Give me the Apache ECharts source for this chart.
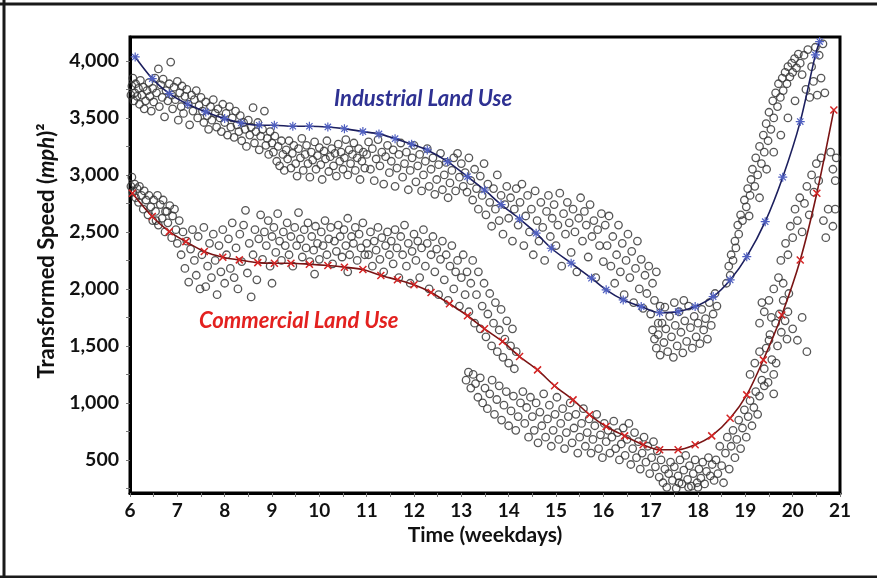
<!DOCTYPE html>
<html><head><meta charset="utf-8">
<script src="https://cdn.jsdelivr.net/npm/echarts@6/dist/echarts.min.js"></script>
<style>html,body{margin:0;padding:0;background:#fff}#c{width:877px;height:578px}</style>
</head><body><div id="c"></div>
<script>
// ---- data ----
const yLabelValues = [500,1000,1500,2000,2500,3000,3500,4000];
const yTickValues = [250,500,750,1000,1250,1500,1750,2000,2250,2500,2750,3000,3250,3500,3750,4000];

const industrialFit = [[6.11,4035],[6.47,3845],[6.83,3713],[7.22,3620],[7.6,3553],[8.0,3494],[8.35,3456],[8.73,3436],[9.05,3436],[9.44,3427],[9.79,3427],[10.18,3421],[10.53,3406],[10.92,3380],[11.26,3360],[11.6,3318],[11.95,3270],[12.28,3219],[12.71,3117],[13.13,2985],[13.49,2868],[13.84,2740],[14.23,2615],[14.58,2489],[14.9,2357],[15.32,2226],[15.75,2094],[16.06,1992],[16.42,1904],[16.8,1845],[17.19,1792],[17.58,1801],[17.94,1845],[18.32,1933],[18.68,2079],[19.03,2283],[19.42,2590],[19.79,2980],[20.16,3468],[20.48,4053],[20.57,4170]];

const commercialFit = [[6.05,2840],[6.47,2635],[6.83,2503],[7.18,2415],[7.57,2328],[7.96,2278],[8.31,2255],[8.7,2231],[9.05,2226],[9.4,2226],[9.79,2217],[10.18,2205],[10.53,2191],[10.92,2170],[11.3,2118],[11.65,2080],[12.0,2036],[12.36,1969],[12.75,1870],[13.13,1765],[13.49,1650],[13.87,1539],[14.23,1407],[14.61,1290],[14.97,1150],[15.36,1027],[15.71,896],[16.06,793],[16.45,711],[16.84,633],[17.19,589],[17.58,589],[17.94,633],[18.29,711],[18.68,866],[19.03,1071],[19.38,1378],[19.77,1772],[20.16,2254],[20.51,2839],[20.87,3570]];

const scatterIndustrial = [
[6.02,3700],[6.04,3780],[6.06,3850],[6.08,3650],[6.1,3720],[6.12,3800],[6.15,3690],[6.18,3760],[6.2,3620],[6.22,3830],[6.25,3700],[6.28,3770],[6.3,3580],[6.33,3650],[6.36,3740],[6.4,3810],[6.42,3690],[6.45,3560],[6.48,3760],[6.5,3640],[6.53,3850],[6.56,3720],[6.6,3930],[6.62,3600],[6.65,3790],[6.68,3680],[6.7,3840],[6.73,3510],[6.76,3740],[6.8,3650],[6.83,3800],[6.86,3990],[6.88,3700],[6.9,3580],[6.93,3770],[6.96,3660],[7.0,3820],[7.02,3480],[7.05,3720],[7.08,3600],[7.1,3780],[7.13,3540],[7.16,3690],[7.2,3750],[7.23,3620],[7.26,3440],[7.3,3700],[7.33,3560],[7.36,3660],[7.4,3740],[7.43,3500],[7.46,3610],[7.5,3680],
[7.53,3560],[7.56,3460],[7.6,3640],[7.63,3520],[7.66,3400],[7.7,3600],[7.73,3480],[7.76,3660],[7.8,3540],[7.83,3420],[7.86,3580],[7.9,3500],[7.93,3380],[7.96,3620],[8.0,3460],[8.03,3540],[8.06,3350],[8.1,3600],[8.13,3420],[8.16,3500],[8.2,3330],[8.23,3560],[8.26,3440],[8.3,3380],[8.33,3520],[8.36,3300],[8.4,3460],[8.43,3400],[8.46,3250],[8.5,3480],[8.53,3350],[8.56,3420],[8.6,3590],[8.63,3280],[8.66,3380],[8.7,3460],[8.73,3220],[8.76,3340],[8.8,3400],[8.84,3560],[8.87,3260],[8.9,3320],[8.93,3180],[8.96,3380],[9.0,3280],
[9.03,3200],[9.06,3340],[9.1,3120],[9.13,3250],[9.16,3080],[9.2,3300],[9.23,3180],[9.26,3040],[9.3,3220],[9.33,3140],[9.36,3300],[9.4,3060],[9.43,3190],[9.46,3260],[9.5,3100],[9.53,2990],[9.56,3230],[9.6,3150],[9.63,3320],[9.66,3040],[9.7,3180],[9.73,3260],[9.76,3100],[9.8,2980],[9.83,3200],[9.86,3130],[9.9,3290],[9.93,3050],[9.96,3170],[10.0,3240],[10.03,3090],[10.06,2960],[10.1,3210],[10.13,3140],[10.16,3300],[10.2,3030],[10.23,3160],[10.26,3230],[10.3,3080],[10.33,3190],[10.36,2990],[10.4,3270],[10.43,3120],[10.46,3200],[10.5,3050],[10.53,3150],[10.56,3310],[10.6,3000],[10.63,3220],[10.66,3100],[10.7,3180],[10.73,3280],[10.76,3040],[10.8,3150],[10.83,3230],[10.86,2960],[10.9,3120],[10.93,3200],[10.96,3060],
[11.0,3180],[11.04,3290],[11.08,3050],[11.12,3230],[11.16,2950],[11.2,3140],[11.24,3310],[11.28,3080],[11.32,3200],[11.36,2920],[11.4,3160],[11.44,3260],[11.48,3020],[11.52,3120],[11.56,3220],[11.6,2900],[11.64,3060],[11.68,3180],[11.72,3280],[11.76,2980],[11.8,3100],[11.84,3200],[11.88,2870],[11.92,3040],[11.96,3150],[12.0,3260],[12.04,2940],[12.08,3080],[12.12,3180],[12.16,2860],[12.2,3000],[12.24,3120],[12.28,3230],[12.32,2900],[12.36,3050],[12.4,3150],[12.44,2830],[12.48,2960],[12.52,3090],[12.56,3190],[12.6,2870],[12.64,3000],[12.68,3110],[12.72,2800],[12.76,2930],[12.8,3040],[12.84,3150],[12.88,2860],[12.92,3190],[12.96,2980],[13.0,3100],
[13.04,2900],[13.08,3020],[13.12,2850],[13.16,3150],[13.2,2950],[13.24,2780],[13.28,3050],[13.32,2880],[13.36,2700],[13.4,2990],[13.44,2820],[13.48,3100],[13.52,2650],[13.56,2920],[13.6,2760],[13.64,2550],[13.68,2880],[13.72,2700],[13.76,3000],[13.8,2600],[13.84,2820],[13.88,2480],[13.92,2740],[13.96,2900],[14.0,2620],[14.04,2800],[14.08,2420],[14.12,2700],[14.16,2880],[14.2,2560],[14.24,2760],[14.28,2920],[14.32,2380],[14.36,2640],[14.4,2820],[14.44,2500],[14.48,2700],[14.52,2300],[14.56,2860],[14.6,2600],[14.64,2420],[14.68,2760],[14.72,2540],[14.76,2250],[14.8,2680],[14.84,2820],[14.88,2460],[14.92,2620],[14.96,2740],[15.0,2380],[15.04,2560],[15.08,2840],[15.12,2200],[15.16,2660],[15.2,2480],[15.24,2760],[15.28,2580],[15.32,2320],[15.36,2700],[15.4,2500],[15.44,2150],[15.48,2620],[15.52,2800],[15.56,2420],[15.6,2680],[15.64,2560],[15.68,2280],[15.72,2740],[15.76,2460],[15.8,2600],[15.84,2100],[15.88,2520],[15.92,2380],[15.96,2660],[16.0,2240],
[16.04,2560],[16.08,2380],[16.12,2640],[16.16,2200],[16.2,2460],[16.24,2050],[16.28,2300],[16.32,2560],[16.36,2150],[16.4,2400],[16.44,1950],[16.48,2250],[16.52,2480],[16.56,2100],[16.6,2330],[16.64,1880],[16.68,2180],[16.72,2420],[16.76,2000],[16.8,2260],[16.84,1830],[16.88,2120],[16.92,1960],[16.96,2200],[17.0,1780],[17.04,2050],[17.08,1900],[17.12,2150],[17.16,1700],[17.2,1850],
[17.04,1640],[17.08,1560],[17.12,1480],[17.16,1600],[17.2,1420],[17.24,1700],[17.28,1530],[17.32,1650],[17.36,1450],[17.4,1760],[17.44,1580],[17.48,1400],[17.52,1680],[17.56,1500],[17.6,1800],[17.64,1620],[17.68,1440],[17.72,1720],[17.76,1540],[17.8,1850],[17.84,1660],[17.88,1480],[17.92,1760],[17.96,1580],[18.0,1700],[18.04,1520],[18.08,1820],[18.12,1640],[18.16,1740],[18.2,1560],[18.24,1880],[18.28,1680],[18.32,1780],[18.36,1960],[17.3,1840],[17.5,1880],[17.7,1900],[18.4,1850],
[18.6,2050],[18.65,2200],[18.68,2120],[18.7,2300],[18.74,2250],[18.78,2420],[18.8,2360],[18.84,2560],[18.86,2480],[18.9,2650],[18.94,2600],[18.98,2780],[19.02,2720],[19.05,2880],[19.08,2640],[19.1,2820],[19.12,2960],
[19.15,3050],[19.2,2900],[19.22,3150],[19.26,3000],[19.3,3250],[19.34,3100],[19.38,3350],[19.4,3200],[19.44,3450],[19.48,3300],[19.5,3550],[19.54,3400],[19.58,3650],[19.6,3500],[19.64,3720],[19.68,3600],[19.7,3800],[19.74,3680],[19.78,3850],[19.8,3740],[19.84,3900],[19.88,3800],[19.9,3950],[19.94,3860],[19.98,3980],[20.0,3900],[20.04,4020],[20.08,3940],[20.12,4060],[20.16,3980],[20.2,3880],[20.24,4050],[20.28,3750],[20.32,4100],[20.36,3680],[20.4,3950],[20.44,3820],[20.48,4120],[20.52,3700],[20.56,4050],[20.6,3850],[20.64,4150],[20.68,3720],[19.3,2800],[19.45,3050],[19.6,3200],[19.75,3350],[19.9,3500],[20.05,3650],[20.8,3200],[20.85,3050],[20.9,2950],[20.92,3150]
];

const scatterCommercial = [
[6.02,2900],[6.04,2980],[6.06,2850],[6.1,2920],[6.12,2800],[6.15,2880],[6.18,2760],[6.2,2900],[6.24,2820],[6.28,2700],[6.3,2860],[6.34,2780],[6.38,2650],[6.4,2820],[6.44,2720],[6.48,2600],[6.5,2780],[6.54,2680],[6.58,2820],[6.6,2560],[6.64,2740],[6.68,2620],[6.7,2780],[6.74,2500],[6.78,2680],[6.8,2580],[6.84,2730],[6.88,2450],[6.9,2640],[6.94,2700],[6.97,2520],[6.55,2600],[6.75,2680],
[7.0,2400],[7.04,2600],[7.08,2300],[7.12,2500],[7.16,2180],[7.2,2420],[7.24,2060],[7.28,2350],[7.32,2520],[7.36,2250],[7.4,2120],[7.44,2460],[7.48,2000],[7.52,2300],[7.56,2540],[7.6,2020],[7.64,2200],[7.68,2400],[7.72,2100],[7.76,2480],[7.8,2250],[7.84,1950],[7.88,2380],[7.92,2150],[7.96,2520],[8.0,2050],[8.04,2300],[8.08,2440],[8.12,2180],[8.16,2580],[8.2,2100],[8.24,2360],[8.28,2000],[8.32,2480],[8.36,2240],[8.4,2560],[8.44,2690],[8.48,2140],[8.52,2400],[8.56,1930],[8.6,2300],[8.64,2520],[8.68,2080],[8.72,2440],[8.76,2650],[8.8,2260],
[8.84,2500],[8.88,2380],[8.92,2600],[8.96,2200],[9.0,2460],[9.04,2540],[9.08,2320],[9.12,2660],[9.16,2420],[9.2,2250],[9.24,2500],[9.28,2380],[9.32,2580],[9.36,2300],[9.4,2460],[9.44,2200],[9.48,2540],[9.52,2380],[9.56,2670],[9.6,2440],[9.64,2280],[9.68,2520],[9.72,2360],[9.76,2580],[9.8,2240],[9.84,2460],[9.88,2340],[9.92,2550],[9.96,2400],[10.0,2260],[10.04,2500],[10.08,2380],[10.12,2600],[10.16,2300],[10.2,2440],[10.24,2540],[10.28,2220],[10.32,2420],[10.36,2330],[10.4,2560],[10.44,2460],[10.48,2280],[10.52,2520],[10.56,2380],[10.6,2620],[10.64,2300],[10.68,2460],[10.72,2400],[10.76,2540],[10.8,2250],[10.84,2480],[10.88,2360],[10.92,2580],[10.96,2300],[9.9,2130],[10.6,2150],[9.0,2050],
[11.0,2400],[11.04,2300],[11.08,2500],[11.12,2200],[11.16,2420],[11.2,2340],[11.24,2540],[11.28,2260],[11.32,2450],[11.36,2150],[11.4,2380],[11.44,2500],[11.48,2300],[11.52,2420],[11.56,2220],[11.6,2520],[11.64,2360],[11.68,2100],[11.72,2460],[11.76,2300],[11.8,2560],[11.84,2200],[11.88,2400],[11.92,2050],[11.96,2330],[12.0,2480],[12.04,2250],[12.08,2420],[12.12,2100],[12.16,2360],[12.2,2520],[12.24,2200],[12.28,2400],[12.32,2000],[12.36,2300],[12.4,2460],[12.44,2150],[12.48,2350],[12.52,1950],[12.56,2260],[12.6,2420],[12.64,2080],[12.68,2300],[12.72,1900],[12.76,2200],[12.8,2380],[12.84,2000],[12.88,2150],
[12.92,2250],[12.96,1850],[13.0,2100],[13.04,2300],[13.08,1950],[13.12,2150],[13.16,1800],[13.2,2050],[13.24,2250],[13.28,1700],[13.32,1950],[13.36,2150],[13.4,1650],[13.44,1850],[13.48,2050],[13.52,1580],[13.56,1780],[13.6,1960],[13.64,1500],[13.68,1700],[13.72,1880],[13.76,1450],[13.8,1640],[13.84,1820],[13.88,1400],[13.92,1560],[13.96,1720],[14.0,1350],[14.04,1500],[14.08,1650],[14.12,1300],[14.16,1450],
[13.1,1200],[13.15,1270],[13.2,1130],[13.25,1250],[13.3,1170],[13.35,1050],[13.4,1220],[13.45,1000],[13.5,1130],[13.55,950],[13.6,1080],[13.65,1200],[13.7,900],[13.75,1030],[13.8,1150],[13.85,850],[13.9,980],[13.95,1100],[14.0,800],[14.05,930],[14.1,1060],[14.15,760],[14.2,880],[14.25,1000],
[14.3,1100],[14.34,820],[14.38,960],[14.42,700],[14.46,1050],[14.5,880],[14.54,760],[14.58,1000],[14.62,650],[14.66,920],[14.7,800],[14.74,1080],[14.78,700],[14.82,860],[14.86,980],[14.9,620],[14.94,760],[14.98,900],[15.02,1050],[15.06,680],[15.1,820],[15.14,950],[15.18,600],[15.22,740],[15.26,880],[15.3,1000],[15.34,650],[15.38,780],[15.42,900],[15.46,560],[15.5,700],[15.54,820],[15.58,950],[15.62,620],[15.66,740],[15.7,860],[15.74,560],[15.78,680],[15.82,800],[15.86,900],[15.9,600],[15.94,720],[15.98,520],
[16.02,820],[16.06,660],[16.1,760],[16.14,560],[16.18,700],[16.22,840],[16.26,600],[16.3,740],[16.34,500],[16.38,640],[16.42,780],[16.46,540],[16.5,680],[16.54,820],[16.58,460],[16.62,600],[16.66,740],[16.7,520],[16.74,660],[16.78,420],[16.82,560],[16.86,700],[16.9,480],[16.94,620],[16.98,380],[17.02,520],[17.06,660],[17.1,440],[17.14,580],[17.18,350],[17.22,500],
[17.26,300],[17.3,420],[17.34,260],[17.38,380],[17.42,480],[17.46,320],[17.5,440],[17.54,250],[17.58,360],[17.62,500],[17.66,290],[17.7,410],[17.74,540],[17.78,330],[17.82,450],[17.86,270],[17.9,380],[17.94,500],[17.98,300],[18.02,420],[18.06,340],[18.1,480],[18.14,290],[18.18,400],[18.22,520],[18.26,360],[18.3,460],[18.34,320],[17.6,300],[17.8,260],[18.0,260],
[18.38,500],[18.42,380],[18.46,620],[18.5,450],[18.54,300],[18.58,560],[18.62,700],[18.66,420],[18.7,620],[18.74,760],[18.78,520],[18.82,680],[18.86,850],[18.9,600],[18.94,780],[18.98,940],[19.02,700],[19.06,880],[19.1,1020],[19.14,800],[19.18,960],[19.22,1100],[19.26,900],[19.3,1060],[19.1,1250],[19.2,1350],[19.3,1450],[19.35,1200],
[19.4,1300],[19.44,1480],[19.48,1180],[19.52,1600],[19.56,1380],[19.6,1250],[19.64,1700],[19.68,1500],[19.72,1780],[19.76,1620],[19.8,1900],[19.84,1720],[19.88,1560],[19.92,1960],[19.4,1150],[19.6,1080],[19.5,1550],[19.65,1350],
[19.3,1700],[19.4,1800],[19.5,1900],[19.6,2000],[19.35,1880],[19.55,1750],[19.7,2100],[19.75,2250],[19.8,2050],[19.85,2400],[19.9,2300],[19.95,2550],[20.0,2450],[20.05,2700],[20.1,2600],[20.15,2800],[20.2,2500],[20.25,2750],[20.3,2900],[20.35,2650],[20.4,3000],[20.45,2850],[20.5,3100],[20.55,2950],[20.6,3150],[20.65,2600],[20.7,2450],[20.75,2700],[19.9,1800],[20.0,1650],[20.1,1550],[20.2,1750],[20.3,1450],[20.85,2550],[20.9,2700]
];

// ---- chart ----
const chart = echarts.init(document.getElementById('c'), null, {renderer: 'canvas'});
const FONT = 'Lato, "Open Sans", sans-serif';
const circleStyle = {color: 'rgba(0,0,0,0)', borderColor: '#383838', borderWidth: 1.3, opacity: 0.85};
const asterisk = 'path://M5,0L5,10M0,5L10,5M1.5,1.5L8.5,8.5M8.5,1.5L1.5,8.5';
const cross = 'path://M0,0L10,10M10,0L0,10';

chart.setOption({
  animation: false,
  backgroundColor: '#fff',
  grid: {left: 130, right: 37, top: 37, bottom: 85, show: true, borderColor: '#000', borderWidth: 3, containLabel: false},
  xAxis: {
    type: 'value', min: 6, max: 21, interval: 1,
    name: 'Time (weekdays)', nameLocation: 'middle', nameGap: 32,
    nameTextStyle: {fontFamily: FONT, fontWeight: 'bold', fontSize: 21, color: '#111'},
    axisLine: {show: true, lineStyle: {color: '#000', width: 3}},
    axisTick: {show: true, length: 4, lineStyle: {color: '#777', width: 1}},
    minorTick: {show: true, splitNumber: 2, length: 4, lineStyle: {color: '#777', width: 1}},
    splitLine: {show: false},
    axisLabel: {fontFamily: FONT, fontWeight: 'bold', fontSize: 19, color: '#111', margin: 8}
  },
  yAxis: {
    type: 'value', min: 210, max: 4210,
    axisLine: {show: true, lineStyle: {color: '#000', width: 3}},
    axisTick: {show: true, length: 4, customValues: yTickValues, lineStyle: {color: '#777', width: 1}},
    splitLine: {show: false},
    axisLabel: {customValues: yLabelValues, fontFamily: FONT, fontWeight: 'bold', fontSize: 19.5, color: '#111', margin: 11,
      formatter: v => v.toLocaleString('en-US')}
  },
  series: [
    {type: 'scatter', data: scatterIndustrial, symbol: 'circle', symbolSize: 7.5, itemStyle: circleStyle, z: 1, silent: true},
    {type: 'scatter', data: scatterCommercial, symbol: 'circle', symbolSize: 7.5, itemStyle: circleStyle, z: 1, silent: true},
    {type: 'line', data: industrialFit, smooth: 0.3, symbol: asterisk, symbolSize: 9, showAllSymbol: true,
     lineStyle: {color: '#1c1f5e', width: 1.6},
     itemStyle: {color: '#4f5fc0', borderColor: '#4f5fc0', borderWidth: 1.2}, z: 3},
    {type: 'line', data: commercialFit, smooth: 0.3, symbol: cross, symbolSize: 7, showAllSymbol: true,
     lineStyle: {color: '#7a1414', width: 1.6},
     itemStyle: {color: '#d42424', borderColor: '#d42424', borderWidth: 1.5}, z: 3}
  ],
  graphic: [
    {type: 'text', x: 47, y: 251, rotation: Math.PI / 2, style: {
      text: '{a|Transformed Speed (}{b|mph}{a|)²}', align: 'center', verticalAlign: 'middle',
      rich: {
        a: {fontFamily: FONT, fontWeight: 'bold', fontSize: 22, fill: '#111'},
        b: {fontFamily: FONT, fontWeight: 'bold', fontStyle: 'italic', fontSize: 22, fill: '#111'}
      }}},
    {type: 'text', left: 334, top: 88, style: {text: 'Industrial Land Use', font: 'italic bold 22px ' + FONT, fill: '#2e3192'}},
    {type: 'text', left: 199, top: 310, style: {text: 'Commercial Land Use', font: 'italic bold 22px ' + FONT, fill: '#e3211f'}},
    {type: 'line', shape: {x1: 0, y1: 4, x2: 877, y2: 4}, style: {stroke: '#1a1a1a', lineWidth: 3}},
    {type: 'line', shape: {x1: 4, y1: 0, x2: 4, y2: 578}, style: {stroke: '#1a1a1a', lineWidth: 3}},
    {type: 'line', shape: {x1: 0, y1: 577, x2: 877, y2: 577}, style: {stroke: '#1a1a1a', lineWidth: 3}}
  ]
});
</script>
</body></html>
